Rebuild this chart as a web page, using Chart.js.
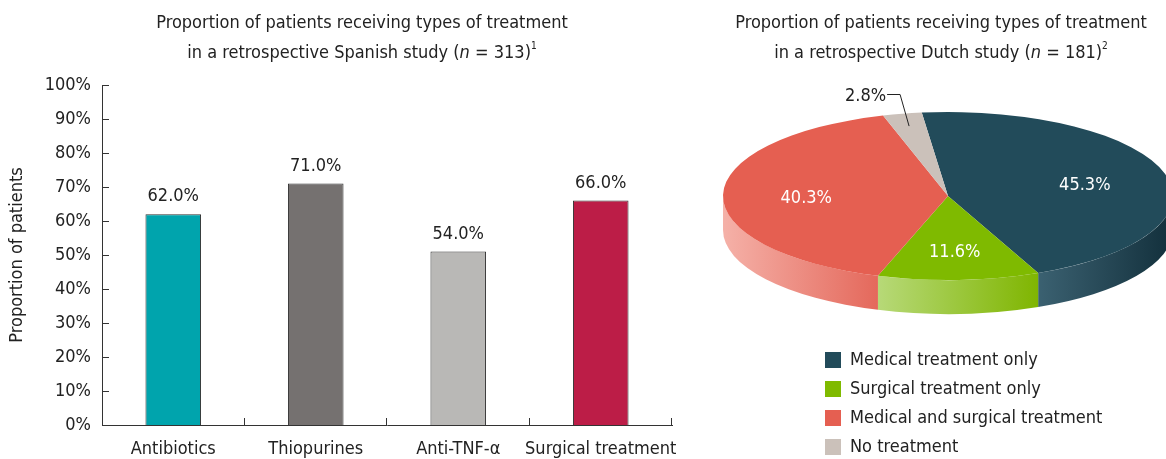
<!DOCTYPE html>
<html>
<head>
<meta charset="utf-8">
<script src="https://cdn.jsdelivr.net/npm/chart.js@4.4.1/dist/chart.umd.min.js"></script>
<style>
  html, body { margin: 0; padding: 0; background: #fff; overflow: hidden; }
  #page { position: relative; width: 1166px; height: 459px; overflow: hidden; }
  .title { position: absolute; top: 7px; text-align: center; font-family: 'DejaVu Sans Condensed', 'DejaVu Sans', sans-serif; font-size: 18px; line-height: 30px; color: #222; }
  .title sup { font-size: 10px; vertical-align: 9px; line-height: 0; }
  #barTitle { left: 0; width: 724px; }
  #pieTitle { left: 716px; width: 450px; }
  #barChart { position: absolute; left: 0; top: 0; }
  #pieChart { position: absolute; left: 700px; top: 0; }
</style>
</head>
<body>
<div id="page">
  <canvas id="barChart" width="700" height="459"></canvas>
  <canvas id="pieChart" width="760" height="520"></canvas>
  <div class="title" id="barTitle">Proportion of patients receiving types of treatment<br>in a retrospective Spanish study (<i>n</i> = 313)<sup>1</sup></div>
  <div class="title" id="pieTitle">Proportion of patients receiving types of treatment<br>in a retrospective Dutch study (<i>n</i> = 181)<sup>2</sup></div>
</div>
<script>
const fontFamily = "'DejaVu Sans Condensed', 'DejaVu Sans', sans-serif";
Chart.defaults.font.family = fontFamily;
Chart.defaults.font.size = 18;
Chart.defaults.color = '#222';

// Spanish study (bars)
const treatments = ['Antibiotics', 'Thiopurines', 'Anti-TNF-α', 'Surgical treatment'];
const barValues = [62, 71, 51, 66];
const barLabels = ['62.0%', '71.0%', '54.0%', '66.0%'];
const barColors = ['#00a4ad', '#757170', '#b9b8b6', '#bc1d47'];

// Dutch study (pie)
const groups = ['Medical treatment only', 'Surgical treatment only', 'Medical and surgical treatment', 'No treatment'];
const pieValues = [45.3, 11.6, 40.3, 2.8];
const pieColors = ['#224b5a', '#7fba00', '#e55f51', '#cbc1ba'];
const sideLight = ['#3b6171', '#b7d978', '#f5b1a8', '#d8cfc9'];
const sideDark = ['#122f3b', '#7fb500', '#e4685b', '#b9aea6'];

// small inward ticks + value labels on top of bars
const barExtras = {
  id: 'barExtras',
  afterDatasetsDraw(chart) {
    const ctx = chart.ctx;
    const x = chart.scales.x, y = chart.scales.y;
    ctx.save();
    ctx.strokeStyle = '#333';
    ctx.lineWidth = 1;
    ctx.beginPath();
    y.ticks.forEach(t => {
      if (t.value <= 0) return;
      const py = Math.round(y.getPixelForValue(t.value)) + 0.5;
      ctx.moveTo(x.left, py);
      ctx.lineTo(x.left + 7, py);
    });
    for (let i = 0; i < treatments.length; i++) {
      let px = i < treatments.length - 1 ? (x.getPixelForValue(i) + x.getPixelForValue(i + 1)) / 2 : x.right;
      px = Math.round(px) - 0.5;
      ctx.moveTo(px, y.bottom);
      ctx.lineTo(px, y.bottom - 7);
    }
    ctx.stroke();

    ctx.fillStyle = '#222';
    ctx.font = '18px ' + fontFamily;
    ctx.textAlign = 'center';
    ctx.textBaseline = 'alphabetic';
    chart.getDatasetMeta(0).data.forEach((bar, i) => {
      ctx.fillText(barLabels[i], bar.x, bar.y - 13);
    });
    ctx.restore();
  }
};

new Chart(document.getElementById('barChart'), {
  type: 'bar',
  data: {
    labels: treatments,
    datasets: [{
      data: barValues,
      backgroundColor: barColors,
      borderColor: '#333',
      borderWidth: 1,
      barPercentage: 0.39,
      categoryPercentage: 1
    }]
  },
  options: {
    responsive: false,
    animation: false,
    events: [],
    layout: { padding: { top: 85, right: 28, left: 0, bottom: 0 } },
    plugins: {
      legend: { display: false },
      tooltip: { enabled: false }
    },
    scales: {
      x: {
        grid: { display: false, drawTicks: false },
        border: { color: '#333', width: 1 },
        ticks: { padding: 14, color: '#222', maxRotation: 0, minRotation: 0, autoSkip: false },
        afterFit: s => { s.height = 34; }
      },
      y: {
        min: 0,
        max: 100,
        ticks: { stepSize: 10, padding: 11, color: '#222', callback: v => v + '%' },
        grid: { display: false, drawTicks: false },
        border: { color: '#333', width: 1 },
        title: { display: true, text: 'Proportion of patients', color: '#222', padding: { top: 7, bottom: 0 } },
        afterFit: s => { s.width = 102; }
      }
    }
  },
  plugins: [barExtras]
});

// flat pie squashed into an ellipse with a shaded rim
const tilt = { cx: 248, cy: 196, rx: 225, ry: 84, depth: 34 };

function frontParts(s, e) {
  const parts = [];
  for (let k = -1; k <= 1; k++) {
    const lo = Math.max(s, k * 2 * Math.PI), hi = Math.min(e, k * 2 * Math.PI + Math.PI);
    if (hi > lo) parts.push([lo, hi]);
  }
  return parts;
}

const pie3d = {
  id: 'pie3d',
  beforeDatasetsDraw(chart) {
    const ctx = chart.ctx;
    const arcs = chart.getDatasetMeta(0).data;
    const { cx, cy, rx, ry, depth } = tilt;
    ctx.save();
    arcs.forEach((arc, i) => {
      frontParts(arc.startAngle, arc.endAngle).forEach(([a0, a1]) => {
        const xl = cx + rx * Math.cos(a1), xr = cx + rx * Math.cos(a0);
        const g = ctx.createLinearGradient(xl, 0, xr + 1, 0);
        g.addColorStop(0, sideLight[i]);
        g.addColorStop(1, sideDark[i]);
        ctx.fillStyle = g;
        ctx.beginPath();
        ctx.ellipse(cx, cy, rx, ry, 0, a0, a1);
        ctx.ellipse(cx, cy + depth, rx, ry, 0, a1, a0, true);
        ctx.closePath();
        ctx.fill();
      });
    });
    ctx.restore();

    const a = arcs[0];
    ctx.save();
    ctx.translate(cx, cy);
    ctx.scale(rx / a.outerRadius, ry / a.outerRadius);
    ctx.translate(-a.x, -a.y);
  },
  afterDatasetsDraw(chart) {
    const ctx = chart.ctx;
    ctx.restore();
    const arcs = chart.getDatasetMeta(0).data;
    const { cx, cy, rx, ry } = tilt;
    ctx.save();
    ctx.font = '18px ' + fontFamily;
    ctx.textBaseline = 'middle';
    arcs.forEach((arc, i) => {
      const mid = (arc.startAngle + arc.endAngle) / 2;
      const text = pieValues[i].toFixed(1) + '%';
      if (pieValues[i] >= 5) {
        ctx.fillStyle = '#fff';
        ctx.textAlign = 'center';
        ctx.fillText(text, cx + rx * 0.63 * Math.cos(mid), cy + 3 + ry * 0.63 * Math.sin(mid));
      } else {
        const ex = cx + rx * 0.85 * Math.cos(mid), ey = cy + ry * 0.85 * Math.sin(mid);
        const ky = Math.round(cy - ry - 18) + 0.5;
        ctx.strokeStyle = '#222';
        ctx.lineWidth = 1;
        ctx.beginPath();
        ctx.moveTo(ex, ey);
        ctx.lineTo(ex - 9, ky);
        ctx.lineTo(ex - 22, ky);
        ctx.stroke();
        ctx.fillStyle = '#222';
        ctx.textAlign = 'right';
        ctx.fillText(text, ex - 23, ky + 2);
      }
    });
    ctx.restore();
  }
};

new Chart(document.getElementById('pieChart'), {
  type: 'pie',
  data: {
    labels: groups,
    datasets: [{
      data: pieValues,
      backgroundColor: pieColors,
      borderWidth: 0,
      clip: false
    }]
  },
  options: {
    responsive: false,
    animation: false,
    events: [],
    rotation: -6.7,
    layout: { padding: { left: 114, top: 340, right: 0, bottom: 0 } },
    plugins: {
      tooltip: { enabled: false },
      legend: {
        position: 'left',
        align: 'start',
        maxWidth: 360,
        labels: { boxWidth: 16, boxHeight: 16, padding: 11, color: '#222', font: { size: 18 } }
      }
    }
  },
  plugins: [pie3d]
});
</script>
</body>
</html>
